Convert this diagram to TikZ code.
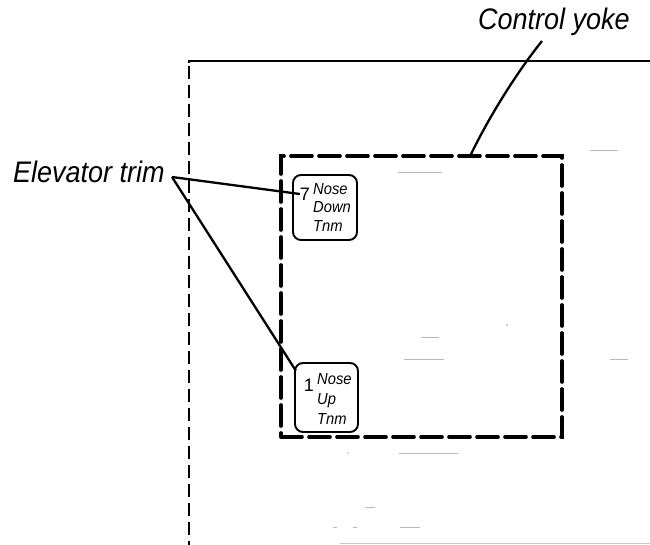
\documentclass[tikz,border=0pt]{standalone}
\usepackage{fontspec}
\setmainfont{Liberation Sans}
\usetikzlibrary{calc}
\begin{document}
\begin{tikzpicture}[x=1pt,y=-1pt,
  panelline/.style={line width=1.7pt},
  paneldash/.style={line width=1.7pt, dash pattern=on 13pt off 6pt},
  yokebox/.style={draw, line width=3.6pt, dash pattern=on 21pt off 7pt, line cap=round},
  trimbox/.style={draw, rounded corners=8pt, line width=1.9pt, inner sep=0pt},
  leader/.style={line width=2.3pt},
  callout/.style={font=\itshape\fontsize{27}{30}\selectfont, inner sep=0pt, yscale=1.1},
  trimtext/.style={font=\itshape\fontsize{16}{18.5}\selectfont, align=left, inner sep=0pt, xscale=0.92},
  trimnum/.style={font=\fontsize{18}{20}\selectfont, inner sep=0pt},
  speck/.style={gray!55, line width=0.8pt}
]
\useasboundingbox (0,0) rectangle (650,545);

% panel outline
\coordinate (pTL) at (189,61);
\coordinate (pTR) at (650,61);
\coordinate (pBL) at (189,545);
\draw[panelline] (pTR) -- (pTL) -- ++(0,2);
\draw[paneldash] (pTL) ++(0,5) -- (pBL);
\coordinate (bL) at (340,543);
\coordinate (bR) at (650,543);
\draw[gray!45, line width=0.9pt] (bL) -- (bR);

% control yoke outline
\node[yokebox, minimum width=281pt, minimum height=281pt] (yoke) at (421.5,296.5) {};

% trim switches
\node[trimbox, minimum width=64pt, minimum height=65pt] (down) at (325,207.5) {};
\node[trimnum] (seven) at (305,194) {7};
\node[trimtext, anchor=north west] (downtxt) at (313,183) {Nose\\Down\\Tnm};

\node[trimbox, minimum width=63pt, minimum height=69pt] (up) at (326.5,397.5) {};
\node[trimnum] (one) at (309,385) {1};
\node[trimtext, anchor=north west, font=\itshape\fontsize{16}{20}\selectfont] (uptxt) at (317,373) {Nose\\Up\\Tnm};

% callouts
\node[callout, anchor=base west] (elev) at (13,183) {Elevator trim};
\coordinate (apex) at (172,177);
\draw[leader] (apex) -- (seven.west);
\draw[leader] (apex) -- ($(one.north west)+(-8,-8)$);

\node[callout, anchor=base] (ctrl) at (554,30) {Control yoke};
\coordinate (ctrlfoot) at (542,41);
\draw[leader] (ctrlfoot) .. controls (517,72) and (489,117) .. (yoke.north -| 471,0);

% faint printing specks
\draw[speck] (398,172) -- (442,172);
\draw[speck] (590,150) -- (618,150);
\draw[speck] (421,337) -- (439,337);
\draw[speck] (404,359) -- (444,359);
\draw[speck] (610,359) -- (628,359);
\draw[speck] (399,453) -- (458,453);
\draw[speck] (365,507) -- (375,507);
\draw[speck] (400,527) -- (420,527);
\draw[speck] (333,527) -- (337,527);
\draw[speck] (353,527) -- (357,527);
\fill[gray!60] (507,325) circle (1pt);
\fill[gray!60] (348,453) circle (0.8pt);
\end{tikzpicture}
\end{document}
